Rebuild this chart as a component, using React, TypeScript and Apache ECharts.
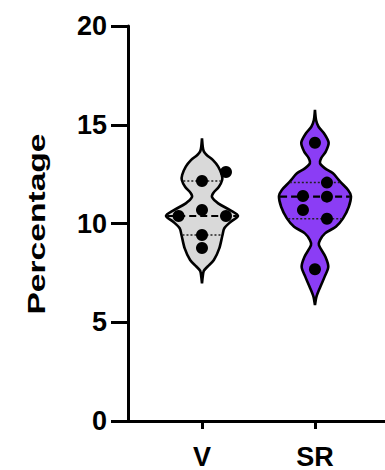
import React, { useEffect, useRef } from "react";
import * as echarts from "echarts";

const categories = ["V", "SR"];
const yTicks = [0, 5, 10, 15, 20];
const yTitle = "Percentage";

// individual measurements (Percentage)
const vValues = [12.61, 12.15, 10.38, 10.68, 10.38, 9.42, 8.76];
const srValues = [14.09, 12.07, 11.39, 11.36, 10.68, 10.24, 7.68];

// horizontal spread of overlapping dots, in dot diameters
const vDotShift = [2, 0, -1.95, 0, 2, 0, 0];
const srDotShift = [0, 1, -1, 1, -1, 1, 0];

// violin density profiles: [value, relative density]
const vProfile: [number, number][] = [
  [14.31, 0], [13.9, 0.02], [13.65, 0.05], [13.47, 0.13], [13.22, 0.3], [12.88, 0.45],
  [12.46, 0.55], [12.2, 0.56], [11.86, 0.47], [11.53, 0.31], [11.33, 0.28], [11.02, 0.45],
  [10.68, 0.78], [10.39, 1.0], [10.09, 0.8], [9.76, 0.62], [9.42, 0.57], [8.74, 0.48],
  [8.15, 0.33], [7.81, 0.15], [7.6, 0.05], [7.3, 0.02], [6.97, 0],
];
const srProfile: [number, number][] = [
  [15.75, 0], [15.24, 0.03], [14.9, 0.1], [14.57, 0.25], [14.09, 0.38], [13.64, 0.3],
  [13.3, 0.17], [13.05, 0.14], [12.79, 0.28], [12.54, 0.5], [12.12, 0.7], [11.7, 0.92],
  [11.39, 1.0], [10.85, 0.94], [10.26, 0.78], [9.84, 0.58], [9.5, 0.28], [9.16, 0.14],
  [8.91, 0.11], [8.32, 0.29], [7.81, 0.37], [7.31, 0.27], [6.8, 0.15], [6.29, 0.04], [5.87, 0],
];

const fills = ["#d9d9d9", "#8b3df5"];

const groups = [
  { x: 1, values: vValues, shift: vDotShift, profile: vProfile, fill: fills[0] },
  { x: 2, values: srValues, shift: srDotShift, profile: srProfile, fill: fills[1] },
];

const HALF = 36;
const DOT = 12;

function widthAt(profile: [number, number][], v: number) {
  for (let i = 0; i < profile.length - 1; i++) {
    const a = profile[i];
    const b = profile[i + 1];
    if (v <= a[0] && v >= b[0]) {
      const t = (a[0] - v) / (a[0] - b[0]);
      return a[1] + (b[1] - a[1]) * t;
    }
  }
  return 0;
}

function quantile(values: number[], p: number) {
  const s = values.slice().sort((a, b) => a - b);
  const pos = p * (s.length + 1);
  const lo = Math.floor(pos);
  const frac = pos - lo;
  const a = s[Math.max(0, Math.min(s.length - 1, lo - 1))];
  const b = s[Math.max(0, Math.min(s.length - 1, lo))];
  return a + (b - a) * frac;
}

export default function App() {
  const ref = useRef<HTMLDivElement>(null);
  useEffect(() => {
    document.body.style.margin = "0";
    const chart = echarts.init(ref.current!, undefined, { renderer: "svg" });
    const font = "Liberation Sans";
    chart.setOption({
      animation: false,
      grid: { left: 128, right: 0, top: 26, bottom: 49, outerBoundsMode: "none" },
      graphic: [
        {
          type: "text",
          x: 37,
          y: 224,
          rotation: Math.PI / 2,
          scaleX: 1.4,
          style: {
            text: yTitle,
            fontSize: 24,
            fontWeight: "bold",
            fontFamily: font,
            fill: "#000",
            align: "center",
            verticalAlign: "middle",
          },
        },
      ],
      xAxis: {
        type: "value",
        min: 0.345,
        max: 2.62,
        splitLine: { show: false },
        axisLine: { show: true, lineStyle: { color: "#000", width: 3 } },
        axisTick: { show: true, customValues: [1, 2], length: 8, lineStyle: { color: "#000", width: 3 } },
        axisLabel: {
          customValues: [1, 2],
          formatter: (v: number) => categories[Math.round(v) - 1] ?? "",
          fontSize: 27,
          fontWeight: "bold",
          fontFamily: font,
          color: "#000",
          margin: 22,
        },
      },
      yAxis: {
        type: "value",
        min: yTicks[0],
        max: yTicks[yTicks.length - 1],
        interval: 5,
        splitLine: { show: false },
        axisLine: { show: true, lineStyle: { color: "#000", width: 3 } },
        axisTick: { show: true, length: 17, lineStyle: { color: "#000", width: 3 } },
        axisLabel: { fontSize: 27, fontWeight: "bold", fontFamily: font, color: "#000", margin: 21 },
      },
      series: [
        {
          type: "custom",
          clip: false,
          data: groups.map((g) => [g.x, 10]),
          encode: { x: 0, y: 1 },
          z: 2,
          renderItem: (params: any, api: any) => {
            const g = groups[params.dataIndex];
            const cx = api.coord([g.x, 0])[0];
            const yOf = (v: number) => api.coord([g.x, v])[1];
            const right = g.profile.map(([v, d]) => [cx + d * HALF, yOf(v)]);
            const left = g.profile
              .slice()
              .reverse()
              .map(([v, d]) => [cx - d * HALF, yOf(v)]);
            const children: any[] = [
              {
                type: "polygon",
                shape: { points: right.concat(left), smooth: 0.3 },
                style: { fill: g.fill, stroke: "#000", lineWidth: 2.6 },
              },
            ];
            const stat = (p: number, dashed: boolean) => {
              const v = quantile(g.values, p);
              const w = widthAt(g.profile, v) * HALF - 1;
              children.push({
                type: "line",
                shape: { x1: cx - w, y1: yOf(v), x2: cx + w, y2: yOf(v) },
                style: dashed
                  ? { stroke: "#000", lineWidth: 2.2, lineDash: [7, 4] }
                  : { stroke: "#222", lineWidth: 1.5, lineDash: [2, 2] },
              });
            };
            stat(0.25, false);
            stat(0.75, false);
            stat(0.5, true);
            return { type: "group", children };
          },
        },
        ...groups.map((g) => ({
          type: "scatter",
          z: 5,
          symbolSize: DOT,
          itemStyle: { color: "#000", opacity: 1 },
          data: g.values.map((v, i) => ({ value: [g.x, v], symbolOffset: [g.shift[i] * DOT, 0] })),
        })),
      ],
    });
    return () => chart.dispose();
  }, []);
  return <div ref={ref} style={{ width: 385, height: 470 }} />;
}
